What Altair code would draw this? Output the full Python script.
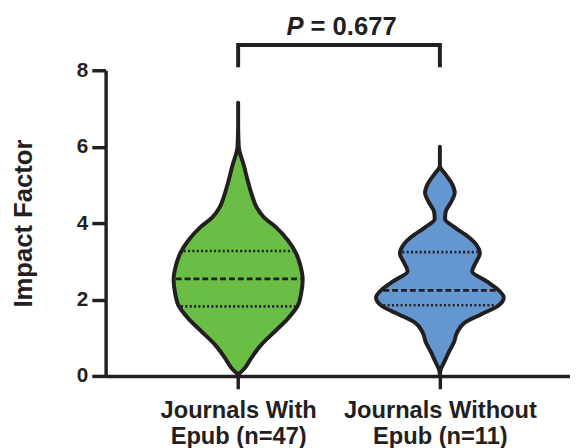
import altair as alt
import pandas as pd
import numpy as np

# ---------------- data ----------------
categories = ["Journals With Epub (n=47)", "Journals Without Epub (n=11)"]
label_lines = [["Journals With", "Epub (n=47)"], ["Journals Without", "Epub (n=11)"]]
fill_colors = ["#6abd45", "#6497d0"]

# violin outline: impact-factor level and relative half-width (1 = widest)
with_y = [7.15, 6.6, 6.0, 5.5, 5.1, 4.7, 4.4, 4.15, 3.9, 3.55, 3.2, 2.85,
          2.52, 2.2, 1.83, 1.5, 1.15, 0.8, 0.46, 0.2, 0.03]
with_w = [0.0, 0.0, 0.01, 0.09, 0.15, 0.22, 0.29, 0.40, 0.58, 0.77, 0.90, 0.97,
          1.0, 0.98, 0.92, 0.77, 0.56, 0.35, 0.20, 0.10, 0.0]

without_y = [6.0, 5.5, 5.45, 5.27, 5.02, 4.8, 4.54, 4.3, 4.11, 3.9, 3.64, 3.42,
             3.21, 2.95, 2.74, 2.48, 2.26, 2.05, 1.83, 1.62, 1.4, 1.15, 0.89,
             0.63, 0.37, 0.15, 0.03]
without_w = [0.0, 0.0, 0.01, 0.09, 0.19, 0.23, 0.17, 0.09, 0.08, 0.22, 0.44, 0.57,
             0.62, 0.55, 0.50, 0.72, 0.90, 0.99, 0.90, 0.65, 0.39, 0.27, 0.22,
             0.14, 0.07, 0.01, 0.0]

medians = [2.54, 2.24]
q1 = [1.82, 1.85]
q3 = [3.27, 3.24]

p_value = "0.677"
y_ticks = [0, 2, 4, 6, 8]

# ---------------- styling ----------------
INK = "#231f20"
FONT = "Liberation Sans"
HALF = 0.32          # max half-width of a violin in x units

profiles = [(with_y, with_w), (without_y, without_w)]

rows = []
for i, (ys, ws) in enumerate(profiles):
    pos = i + 1
    for y, w in zip(ys, ws):
        rows.append({"group": categories[i], "y": y,
                     "left": pos - w * HALF, "right": pos + w * HALF})
violin_df = pd.DataFrame(rows)

qrows = []
for i, (ys, ws) in enumerate(profiles):
    pos = i + 1
    ys_a = np.array(ys[::-1]); ws_a = np.array(ws[::-1])
    for kind, val in (("median", medians[i]), ("q1", q1[i]), ("q3", q3[i])):
        w = float(np.interp(val, ys_a, ws_a)) * HALF - 0.01
        qrows.append({"group": categories[i], "kind": kind, "y": val,
                      "left": pos - w, "right": pos + w})
q_df = pd.DataFrame(qrows)

bracket_df = pd.DataFrame({"x": [1, 1, 2, 2], "y": [8.08, 8.66, 8.66, 8.08],
                           "i": [0, 1, 2, 3]})
ptext_df = pd.DataFrame({"x": [1.5], "y": [9.12]})

xscale = alt.Scale(domain=[0.343, 2.645], nice=False, zero=False)
yscale = alt.Scale(domain=[0, 8], nice=False, zero=True)

label_expr = " : ".join(
    f"datum.value == {i + 1} ? {lines!r}" for i, lines in enumerate(label_lines[:-1])
) + f" : {label_lines[-1]!r}"

x_axis = alt.Axis(values=[1, 2], labelExpr=label_expr, title=None, grid=False,
                  tickSize=13, tickWidth=3.5, tickColor=INK,
                  domainWidth=3.5, domainColor=INK,
                  labelFont=FONT, labelFontSize=24, labelFontWeight="bold",
                  labelColor=INK, labelPadding=10, labelLineHeight=26.5,
                  labelAngle=0, labelLimit=400)
y_axis = alt.Axis(values=y_ticks, title="Impact Factor", grid=False,
                  tickSize=14, tickWidth=3.5, tickColor=INK,
                  domainWidth=3.5, domainColor=INK,
                  labelFont=FONT, labelFontSize=21, labelFontWeight="bold",
                  labelColor=INK, labelPadding=4,
                  titleFont=FONT, titleFontSize=26, titleFontWeight="bold",
                  titleColor=INK, titlePadding=40.5)

violin = alt.Chart(violin_df).mark_area(
    orient="horizontal", interpolate="monotone", stroke=INK, strokeWidth=4,
    strokeJoin="round", opacity=1
).encode(
    y=alt.Y("y:Q", scale=yscale, axis=y_axis),
    x=alt.X("left:Q", scale=xscale, axis=x_axis),
    x2="right:Q",
    fill=alt.Fill("group:N", scale=alt.Scale(domain=categories, range=fill_colors),
                  legend=None),
    detail="group:N",
)

median_rule = alt.Chart(q_df).transform_filter(alt.datum.kind == "median").mark_rule(
    color=INK, strokeWidth=2.8, strokeDash=[6, 3]
).encode(
    y=alt.Y("y:Q", scale=yscale), x=alt.X("left:Q", scale=xscale), x2="right:Q"
)

quart_rule = alt.Chart(q_df).transform_filter(alt.datum.kind != "median").mark_rule(
    color=INK, strokeWidth=2.6, strokeDash=[2, 2.4]
).encode(
    y=alt.Y("y:Q", scale=yscale), x=alt.X("left:Q", scale=xscale), x2="right:Q"
)

bracket = alt.Chart(bracket_df).mark_line(
    color=INK, strokeWidth=4, strokeJoin="miter", strokeCap="butt", clip=False
).encode(
    x=alt.X("x:Q", scale=xscale), y=alt.Y("y:Q", scale=yscale), order="i:Q"
)

p_italic = alt.Chart(ptext_df).mark_text(
    text="P", font=FONT, fontSize=26, fontWeight="bold", fontStyle="italic",
    color=INK, align="right", baseline="middle", dx=-36
).encode(x=alt.X("x:Q", scale=xscale), y=alt.Y("y:Q", scale=yscale))

p_rest = alt.Chart(ptext_df).mark_text(
    text=f"= {p_value}", font=FONT, fontSize=26, fontWeight="bold",
    color=INK, align="left", baseline="middle", dx=-29
).encode(x=alt.X("x:Q", scale=xscale), y=alt.Y("y:Q", scale=yscale))

chart = alt.layer(violin, quart_rule, median_rule, bracket, p_italic, p_rest).properties(
    width=471, height=310,
    padding={"left": 99, "top": 60, "right": 0, "bottom": 74},
    autosize=alt.AutoSizeParams(type="none"),
    background="white",
).configure_view(stroke=None)

chart.save("out.html", embed_options={"renderer": "svg", "actions": False})
